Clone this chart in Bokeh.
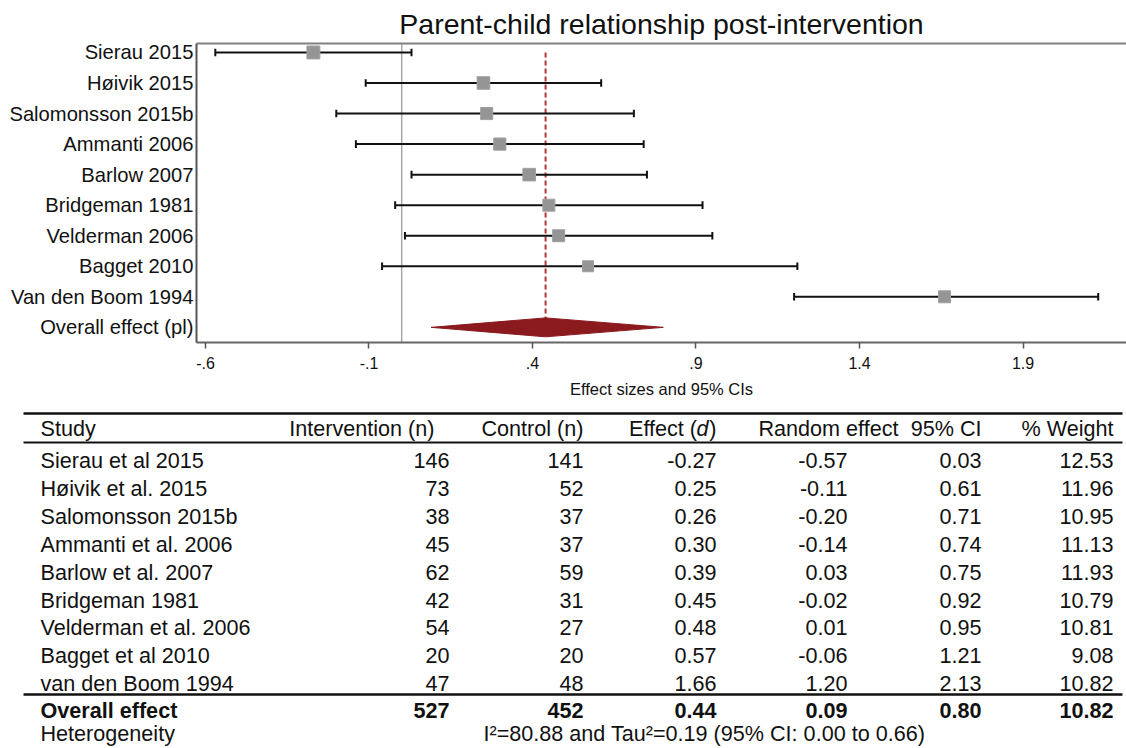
import math
from bokeh.plotting import figure
from bokeh.models import Range1d, FixedTicker, LinearAxis, Span
from bokeh.core.properties import value
from bokeh.embed import file_html
from bokeh.resources import INLINE

# ---------------- data ----------------
plot_labels = ["Sierau 2015", "Høivik 2015", "Salomonsson 2015b", "Ammanti 2006",
               "Barlow 2007", "Bridgeman 1981", "Velderman 2006", "Bagget 2010",
               "Van den Boom 1994"]
overall_label = "Overall effect (pl)"
table_names = ["Sierau et al 2015", "Høivik et al. 2015", "Salomonsson 2015b",
               "Ammanti et al. 2006", "Barlow et al. 2007", "Bridgeman 1981",
               "Velderman et al. 2006", "Bagget et al 2010", "van den Boom 1994"]
n_int = [146, 73, 38, 45, 62, 42, 54, 20, 47]
n_ctl = [141, 52, 37, 37, 59, 31, 27, 20, 48]
effect = [-0.27, 0.25, 0.26, 0.30, 0.39, 0.45, 0.48, 0.57, 1.66]
ci_lo = [-0.57, -0.11, -0.20, -0.14, 0.03, -0.02, 0.01, -0.06, 1.20]
ci_hi = [0.03, 0.61, 0.71, 0.74, 0.75, 0.92, 0.95, 1.21, 2.13]
weight = [12.53, 11.96, 10.95, 11.13, 11.93, 10.79, 10.81, 9.08, 10.82]
ov_n_int, ov_n_ctl = 527, 452
ov_eff, ov_lo, ov_hi, ov_w = 0.44, 0.09, 0.80, 10.82
heterogeneity = "I\u00b2=80.88 and Tau\u00b2=0.19 (95% CI: 0.00 to 0.66)"
x_ticks = [-0.6, -0.1, 0.4, 0.9, 1.4, 1.9]
x_tick_labels = ["-.6", "-.1", ".4", ".9", "1.4", "1.9"]
headers = ["Study", "Intervention (n)", "Control (n)", "Effect (", "d", ")",
           "Random effect", "95% CI", "% Weight"]

FONT = "Liberation Sans"
TXT = "#111111"
W = 1126

# ---------------- forest plot ----------------
n = len(plot_labels)
ys = [-i for i in range(n)]
y_over = -n

p = figure(width=W, height=400,
           x_range=Range1d(-0.6275, 2.2165), y_range=Range1d(-9.496, 0.293),
           output_backend="svg", toolbar_location=None,
           min_border_left=196, min_border_right=0,
           min_border_top=43, min_border_bottom=56,
           title="Parent-child relationship post-intervention")
p.title.text_font = FONT
p.title.text_font_size = "28.5px"
p.title.text_font_style = "normal"
p.title.text_color = TXT
p.title.align = "center"
p.title.standoff = 7
p.grid.visible = False
p.outline_line_color = None

xa = p.xaxis[0]
xa.ticker = FixedTicker(ticks=x_ticks)
xa.major_label_overrides = dict(zip(x_ticks, x_tick_labels))
xa.major_label_text_font = FONT
xa.major_label_text_font_size = "16px"
xa.major_label_text_color = TXT
xa.major_label_standoff = 8
xa.major_tick_out = 6
xa.major_tick_in = 0
xa.minor_tick_out = 0
xa.minor_tick_in = 0
xa.axis_line_color = "#666666"
xa.axis_line_width = 2
xa.major_tick_line_color = "#555555"
xa.major_tick_line_width = 1.5
xa.axis_label = "Effect sizes and 95% CIs"
xa.axis_label_text_font = FONT
xa.axis_label_text_font_size = "16.5px"
xa.axis_label_text_font_style = "normal"
xa.axis_label_text_color = TXT
xa.axis_label_standoff = 8

ya = p.yaxis[0]
ya.ticker = FixedTicker(ticks=ys + [y_over])
ya.major_label_overrides = dict(zip(ys + [y_over], plot_labels + [overall_label]))
ya.major_label_text_font = FONT
ya.major_label_text_font_size = "20.2px"
ya.major_label_text_color = TXT
ya.major_label_standoff = 3
ya.major_tick_out = 0
ya.major_tick_in = 0
ya.minor_tick_out = 0
ya.minor_tick_in = 0
ya.axis_line_color = "#555555"
ya.axis_line_width = 2

top_axis = LinearAxis(ticker=FixedTicker(ticks=[]), axis_line_color="#808080",
                      axis_line_width=2.2, major_tick_out=0, major_tick_in=0,
                      minor_tick_out=0, minor_tick_in=0,
                      major_label_text_font_size="0px")
p.add_layout(top_axis, "above")

p.add_layout(Span(location=0, dimension="height", line_color="#a8a8a8",
                  line_width=1.5, level="underlay"))

# dashed overall line
p.segment(x0=[ov_eff], y0=[0.0], x1=[ov_eff], y1=[y_over],
          line_color="#b0392f", line_width=2, line_dash="5 3")

# CIs
p.segment(x0=ci_lo, y0=ys, x1=ci_hi, y1=ys, line_color="#111111", line_width=2)
cap = 0.125
p.segment(x0=ci_lo, y0=[y - cap for y in ys], x1=ci_lo, y1=[y + cap for y in ys],
          line_color="#111111", line_width=2)
p.segment(x0=ci_hi, y0=[y - cap for y in ys], x1=ci_hi, y1=[y + cap for y in ys],
          line_color="#111111", line_width=2)

sizes = [12 * math.sqrt(w / 10.8) for w in weight]
p.scatter(x=effect, y=ys, marker="square", size=sizes,
          fill_color="#959595", line_color="#a0a0a0")

h = 0.31
p.patch(x=[ov_lo, ov_eff, ov_hi, ov_eff],
        y=[y_over, y_over + h, y_over, y_over - h],
        fill_color="#8b1a1f", line_color="#8b1a1f")

# ---------------- table ----------------
TH = 348
t = figure(width=W, height=TH, x_range=Range1d(0, W), y_range=Range1d(TH, 0),
           output_backend="svg", toolbar_location=None, min_border=0,
           x_axis_location=None, y_axis_location=None)
t.grid.visible = False
t.outline_line_color = None

t.segment(x0=[23, 23, 23], y0=[13, 42, 294], x1=[1122, 1122, 1122], y1=[13, 42, 294],
          line_color="#111111", line_width=[2.6, 2.0, 2.6])

FS = "21.6px"


def txt(xs, yv, texts, align, style="normal"):
    if not isinstance(xs, list):
        xs = [xs] * len(texts)
    if not isinstance(yv, list):
        yv = [yv] * len(texts)
    t.text(x=xs, y=yv, text=texts, text_align=align, text_baseline="middle",
           text_font=value(FONT), text_font_size=FS, text_color=TXT,
           text_font_style=style)


# header
hy = 28
txt(40, hy, [headers[0]], "left")
txt(434, hy, [headers[1]], "right")
txt(583, hy, [headers[2]], "right")
txt(696.5, hy, [headers[3]], "right")
txt(708, hy, [headers[4]], "right", "italic")
txt(716, hy, [headers[5]], "right")
txt(898, hy, [headers[6]], "right")
txt(981, hy, [headers[7]], "right")
txt(1113, hy, [headers[8]], "right")

row_y = [60 + i * 27.9 for i in range(n)]
txt(40, row_y, table_names, "left")
txt(449, row_y, [str(v) for v in n_int], "right")
txt(583, row_y, [str(v) for v in n_ctl], "right")
txt(716, row_y, [f"{v:.2f}" for v in effect], "right")
txt(847, row_y, [f"{v:.2f}" for v in ci_lo], "right")
txt(981, row_y, [f"{v:.2f}" for v in ci_hi], "right")
txt(1113, row_y, [f"{v:.2f}" for v in weight], "right")

oy = 310
txt(40, oy, ["Overall effect"], "left", "bold")
txt(449, oy, [str(ov_n_int)], "right", "bold")
txt(583, oy, [str(ov_n_ctl)], "right", "bold")
txt(716, oy, [f"{ov_eff:.2f}"], "right", "bold")
txt(847, oy, [f"{ov_lo:.2f}"], "right", "bold")
txt(981, oy, [f"{ov_hi:.2f}"], "right", "bold")
txt(1113, oy, [f"{ov_w:.2f}"], "right", "bold")

gy = 333
txt(40, gy, ["Heterogeneity"], "left")
txt(483, gy, [heterogeneity], "left")

open("out.html", "w").write(file_html((p, t), INLINE))
